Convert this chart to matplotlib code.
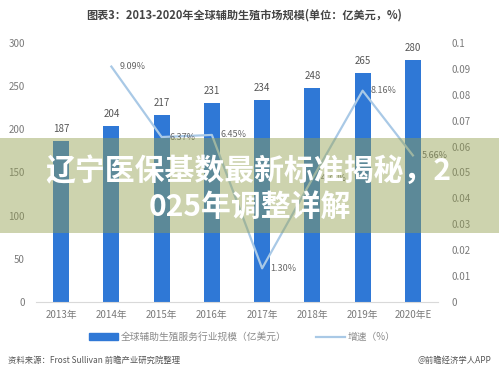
import matplotlib
matplotlib.use("Agg")
import matplotlib.pyplot as plt
from matplotlib.patches import Rectangle
from matplotlib.lines import Line2D
from matplotlib.ticker import FuncFormatter, MultipleLocator

plt.rcParams['font.family'] = ['Noto Sans CJK SC', 'DejaVu Sans']

years = ["2013年", "2014年", "2015年", "2016年", "2017年", "2018年", "2019年", "2020年E"]
market = [187, 204, 217, 231, 234, 248, 265, 280]
growth_years = [1, 2, 3, 4, 5, 6, 7]
growth = [0.0909, 0.0637, 0.0645, 0.0130, 0.0476, 0.0816, 0.0566]
growth_labels = ["9.09%", "6.37%", "6.45%", "1.30%", "4.76%", "8.16%", "5.66%"]

title = "图表3：2013-2020年全球辅助生殖市场规模(单位：亿美元，%)"
bar_name = "全球辅助生殖服务行业规模（亿美元）"
line_name = "增速（%）"
source = "资料来源：Frost Sullivan 前瞻产业研究院整理"
credit = "@前瞻经济学人APP"
banner1 = "辽宁医保基数最新标准揭秘，2"
banner2 = "025年调整详解"

bar_color = "#2f78d6"
line_color = "#a9c9e6"
gray = "#7a7a7a"

fig = plt.figure(figsize=(4.99, 3.72), dpi=100)
ax = fig.add_axes([36/499, 70/372, 402/499, 259/372])
x = list(range(len(years)))
ax.bar(x, market, width=0.32, color=bar_color, zorder=2)
for xi, v in zip(x, market):
    ax.annotate(str(v), (xi, v), xytext=(0, 5), textcoords="offset points",
                ha="center", va="bottom", fontsize=7, color="#555555")
ax.set_xlim(-0.5, len(years) - 0.5)
ax.set_ylim(0, 300)
ax.yaxis.set_major_locator(MultipleLocator(50))
ax.set_xticks(x)
ax.set_xticklabels(years)
ax.tick_params(axis="both", length=0, labelsize=7, labelcolor=gray)
ax.tick_params(axis="x", pad=6)
ax.tick_params(axis="y", pad=8)
for s in ["top", "right", "left"]:
    ax.spines[s].set_visible(False)
ax.spines["bottom"].set_color("#d9d9d9")

ax2 = ax.twinx()
ax2.plot(growth_years, growth, color=line_color, lw=1.6, zorder=3)
for xi, v, lab in zip(growth_years, growth, growth_labels):
    ax2.annotate(lab, (xi, v), xytext=(6, 0), textcoords="offset points",
                 ha="left", va="center", fontsize=6.5, color="#666666")
ax2.set_ylim(0, 0.1)
ax2.yaxis.set_major_locator(MultipleLocator(0.01))
ax2.yaxis.set_major_formatter(FuncFormatter(lambda v, p: f"{round(v, 2):g}"))
ax2.tick_params(axis="y", length=0, labelsize=7, labelcolor=gray, pad=10)
for s in ["top", "right", "left", "bottom"]:
    ax2.spines[s].set_visible(False)

fig.text(0.49, 1 - 15/372, title, ha="center", va="center", fontsize=8,
         fontweight="bold", color="#444444")

# legend
handles = [Rectangle((0, 0), 1, 1, color=bar_color), Line2D([0], [0], color=line_color, lw=1.6)]
fig.legend(handles, [bar_name, line_name], loc="center", bbox_to_anchor=(0.485, 1 - 337/372),
           ncol=2, frameon=False, fontsize=7, labelcolor="#8a8a8a", handlelength=3.0,
           handleheight=0.6, columnspacing=3, handletextpad=0.3)

fig.text(8/499, 1 - 360/372, source, ha="left", va="center", fontsize=6, color="#555555")
fig.text(491/499, 1 - 360/372, credit, ha="right", va="center", fontsize=6, color="#555555")

# banner overlay
fig.patches.append(Rectangle((0, 1 - 233/372), 1, 95/372, transform=fig.transFigure,
                             facecolor="#939f50", alpha=0.46, edgecolor="none", zorder=10))
fig.text(0.497, 1 - 171/372, banner1, ha="center", va="center", fontsize=21.5,
         fontweight="heavy", color="white", zorder=11)
fig.text(0.5, 1 - 207/372, banner2, ha="center", va="center", fontsize=21.5,
         fontweight="heavy", color="white", zorder=11)

fig.savefig("out.png", dpi=100)
